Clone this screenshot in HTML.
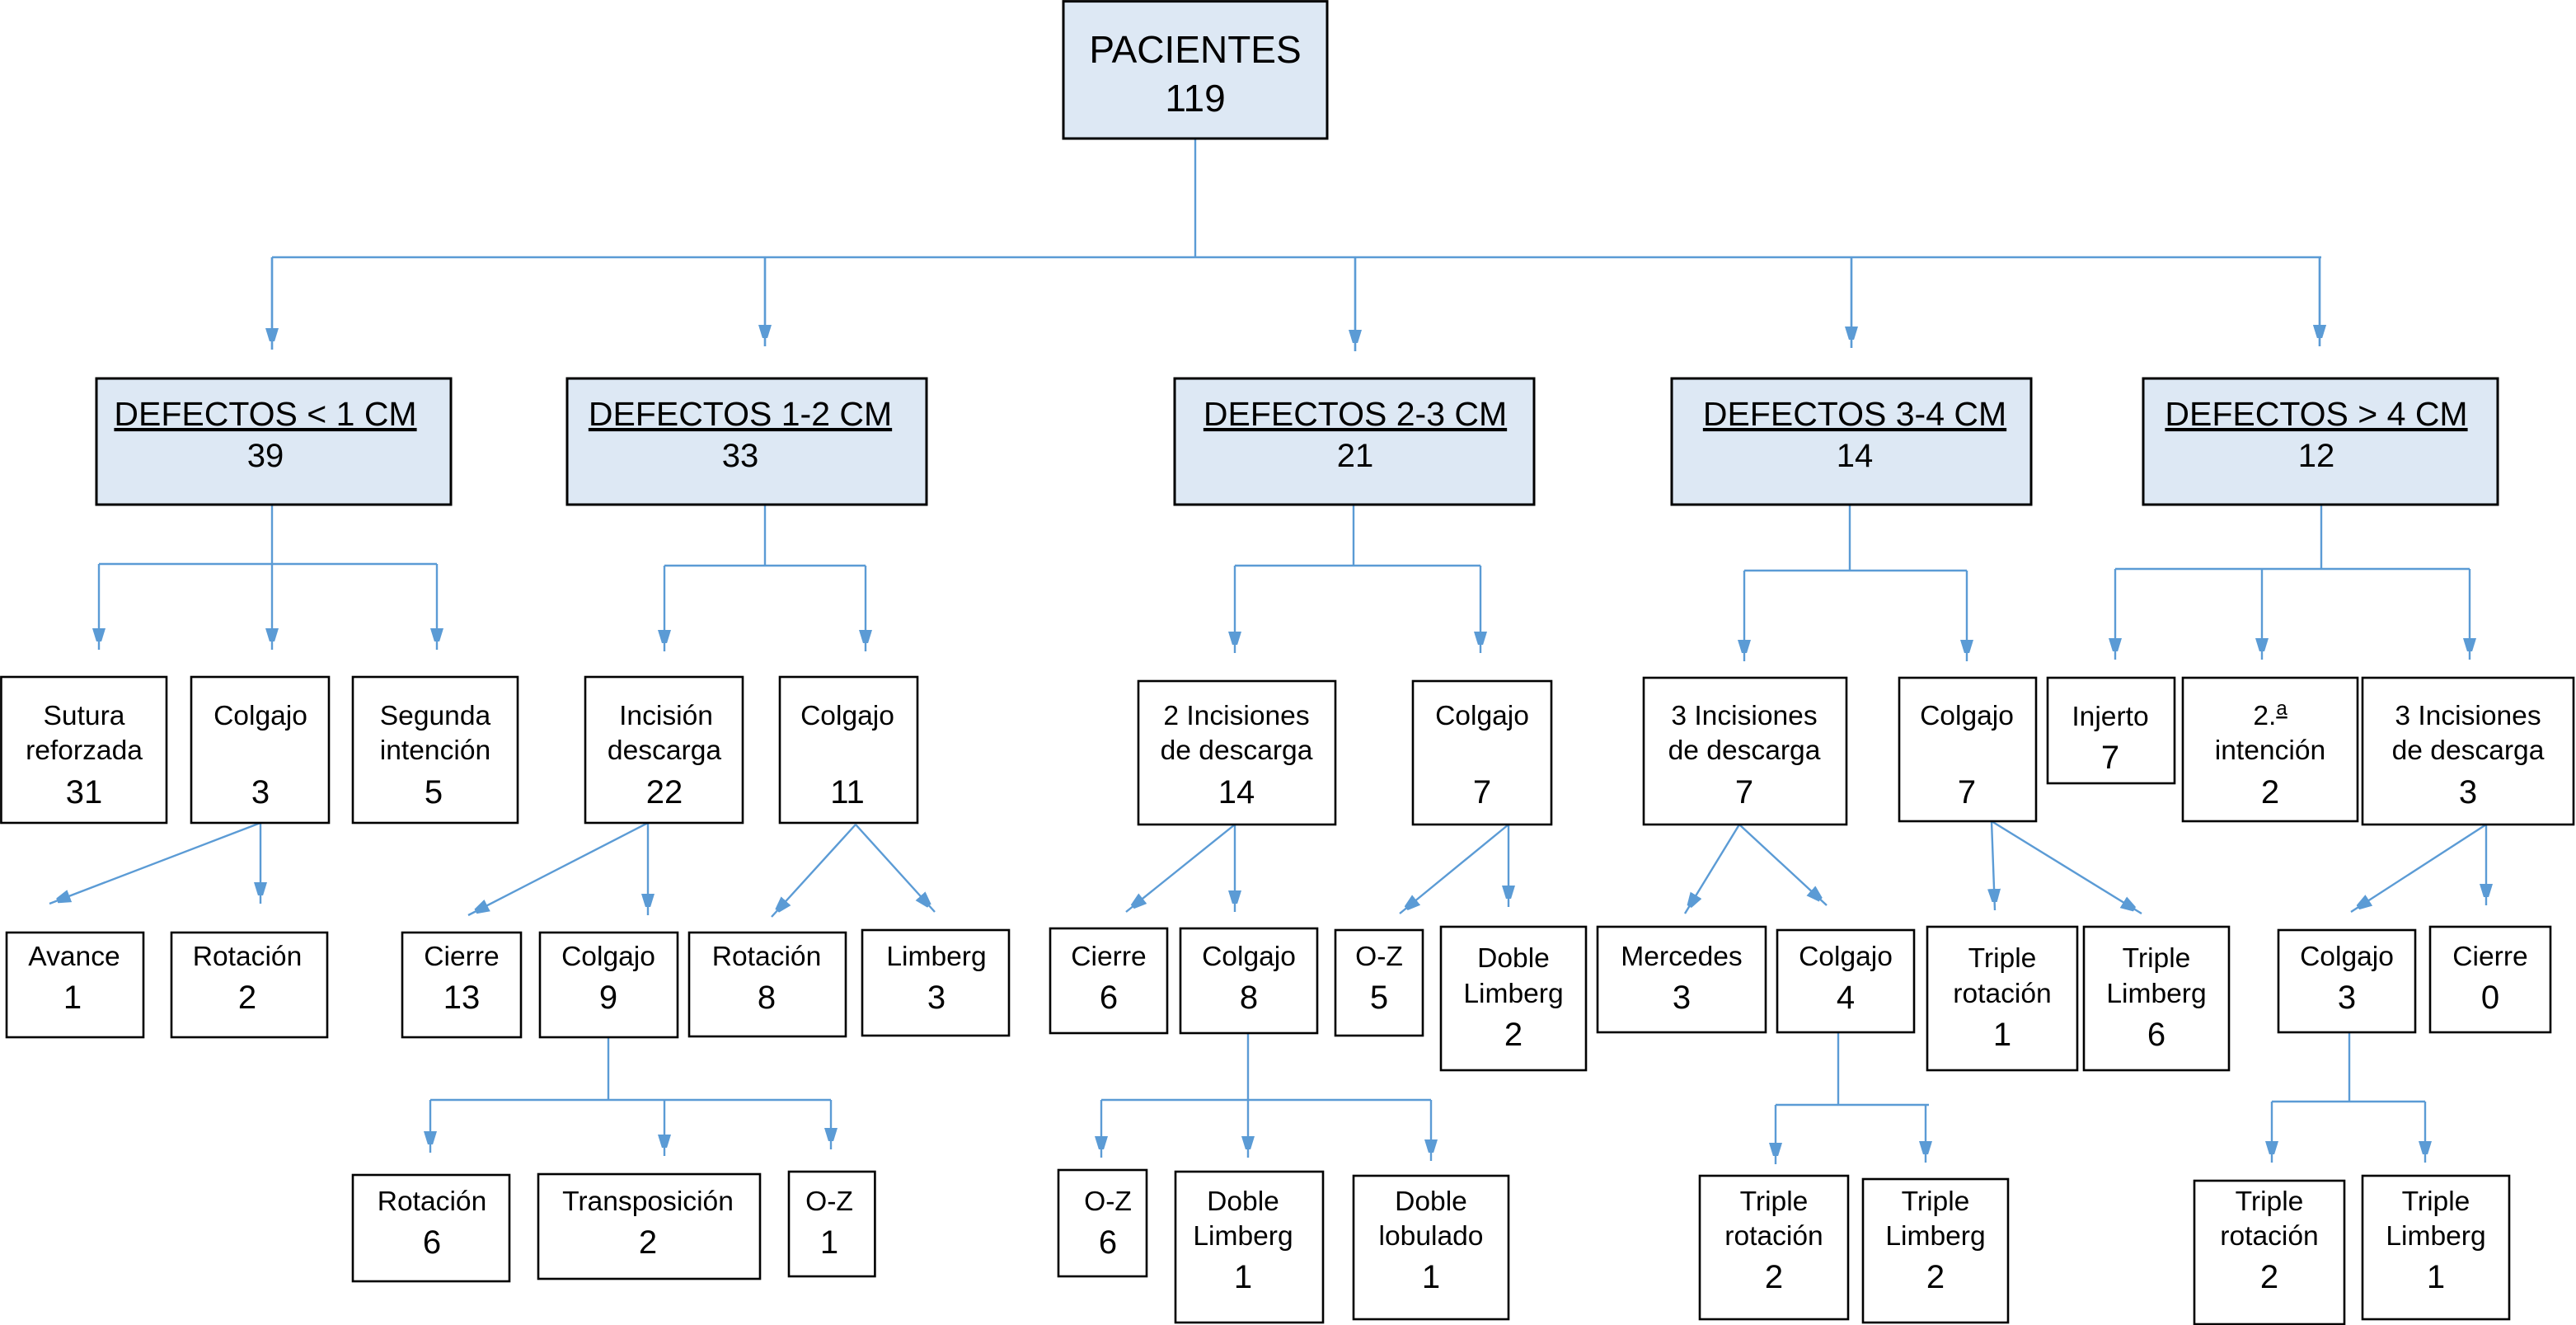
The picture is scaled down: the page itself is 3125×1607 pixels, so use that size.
<!DOCTYPE html>
<html><head><meta charset="utf-8"><style>
html,body{margin:0;padding:0;background:#fff;}
svg{display:block;}
text{font-family:"Liberation Sans",Arial,sans-serif;fill:#000;text-anchor:middle;}
.t{font-size:16.8px;}
.n{font-size:20px;}
.h{font-size:20.5px;text-decoration:underline;}
.b{fill:#fff;stroke:#000;stroke-width:1.3;}
.f{fill:#dde8f4;stroke:#000;stroke-width:1.5;}
.l{fill:none;stroke:#5b9bd5;stroke-width:1.2;}
</style></head><body>
<svg width="3125" height="1607" viewBox="0 0 1562.5 803.5" xmlns="http://www.w3.org/2000/svg">
<defs>
<marker id="a" markerUnits="userSpaceOnUse" markerWidth="8" markerHeight="14" viewBox="0 0 8 14" refX="13" refY="4" orient="auto">
<path d="M0 0 L13 4 L0 8 Z" fill="#5b9bd5"/>
</marker>
</defs>
<!-- connectors -->
<g class="l">
<path d="M725 84 V156 M165 156 H1408"/>
<path d="M165 156 V212 M464 156 V210 M822 156 V213 M1123 156 V211 M1407 156 V210" marker-end="url(#a)"/>
<line x1="165" y1="156" x2="165" y2="212" marker-end="url(#a)"/>
<line x1="464" y1="156" x2="464" y2="210" marker-end="url(#a)"/>
<line x1="822" y1="156" x2="822" y2="213" marker-end="url(#a)"/>
<line x1="1123" y1="156" x2="1123" y2="211" marker-end="url(#a)"/>
<line x1="1407" y1="156" x2="1407" y2="210" marker-end="url(#a)"/>

<path d="M165 306 V342 M60 342 H265"/>
<line x1="60" y1="342" x2="60" y2="394" marker-end="url(#a)"/>
<line x1="165" y1="342" x2="165" y2="394" marker-end="url(#a)"/>
<line x1="265" y1="342" x2="265" y2="394" marker-end="url(#a)"/>

<path d="M464 306 V343 M403 343 H525"/>
<line x1="403" y1="343" x2="403" y2="395" marker-end="url(#a)"/>
<line x1="525" y1="343" x2="525" y2="395" marker-end="url(#a)"/>

<path d="M821 306 V343 M749 343 H898"/>
<line x1="749" y1="343" x2="749" y2="396" marker-end="url(#a)"/>
<line x1="898" y1="343" x2="898" y2="396" marker-end="url(#a)"/>

<path d="M1122 306 V346 M1058 346 H1193"/>
<line x1="1058" y1="346" x2="1058" y2="401" marker-end="url(#a)"/>
<line x1="1193" y1="346" x2="1193" y2="401" marker-end="url(#a)"/>

<path d="M1408 306 V345 M1283 345 H1498"/>
<line x1="1283" y1="345" x2="1283" y2="400" marker-end="url(#a)"/>
<line x1="1372" y1="345" x2="1372" y2="400" marker-end="url(#a)"/>
<line x1="1498" y1="345" x2="1498" y2="400" marker-end="url(#a)"/>

<line x1="158" y1="499" x2="30" y2="548" marker-end="url(#a)"/>
<line x1="158" y1="499" x2="158" y2="548" marker-end="url(#a)"/>
<line x1="393" y1="499" x2="284" y2="555" marker-end="url(#a)"/>
<line x1="393" y1="499" x2="393" y2="555" marker-end="url(#a)"/>
<line x1="519" y1="500" x2="468" y2="556" marker-end="url(#a)"/>
<line x1="519" y1="500" x2="567" y2="553" marker-end="url(#a)"/>
<line x1="749" y1="500" x2="683" y2="553" marker-end="url(#a)"/>
<line x1="749" y1="500" x2="749" y2="553" marker-end="url(#a)"/>
<line x1="915" y1="500" x2="849" y2="554" marker-end="url(#a)"/>
<line x1="915" y1="500" x2="915" y2="550" marker-end="url(#a)"/>
<line x1="1055" y1="500" x2="1022" y2="554" marker-end="url(#a)"/>
<line x1="1055" y1="500" x2="1108" y2="549" marker-end="url(#a)"/>
<line x1="1208" y1="498" x2="1210" y2="552" marker-end="url(#a)"/>
<line x1="1208" y1="498" x2="1299" y2="554" marker-end="url(#a)"/>
<line x1="1508" y1="500" x2="1426" y2="553" marker-end="url(#a)"/>
<line x1="1508" y1="500" x2="1508" y2="549" marker-end="url(#a)"/>

<path d="M369 629 V667 M261 667 H504"/>
<line x1="261" y1="667" x2="261" y2="699" marker-end="url(#a)"/>
<line x1="403" y1="667" x2="403" y2="701" marker-end="url(#a)"/>
<line x1="504" y1="667" x2="504" y2="697" marker-end="url(#a)"/>

<path d="M757 627 V667 M668 667 H868"/>
<line x1="668" y1="667" x2="668" y2="702" marker-end="url(#a)"/>
<line x1="757" y1="667" x2="757" y2="702" marker-end="url(#a)"/>
<line x1="868" y1="667" x2="868" y2="704" marker-end="url(#a)"/>

<path d="M1115 626 V670 M1077 670 H1170"/>
<line x1="1077" y1="670" x2="1077" y2="706" marker-end="url(#a)"/>
<line x1="1168" y1="670" x2="1168" y2="705" marker-end="url(#a)"/>

<path d="M1425 626 V668 M1378 668 H1471"/>
<line x1="1378" y1="668" x2="1378" y2="705" marker-end="url(#a)"/>
<line x1="1471" y1="668" x2="1471" y2="705" marker-end="url(#a)"/>
</g>

<!-- root -->
<rect class="f" x="645" y="0.8" width="160" height="83.2"/>
<text x="725" y="38" style="font-size:23px">PACIENTES</text>
<text x="725" y="67.5" style="font-size:23px">119</text>

<!-- level 1 -->
<rect class="f" x="58.5" y="229.5" width="215" height="76.5"/>
<text class="h" x="161" y="258">DEFECTOS &lt; 1 CM</text><text class="n" x="161" y="283">39</text>
<rect class="f" x="344" y="229.5" width="218" height="76.5"/>
<text class="h" x="449" y="258">DEFECTOS 1-2 CM</text><text class="n" x="449" y="283">33</text>
<rect class="f" x="712.5" y="229.5" width="218" height="76.5"/>
<text class="h" x="822" y="258">DEFECTOS 2-3 CM</text><text class="n" x="822" y="283">21</text>
<rect class="f" x="1014" y="229.5" width="218" height="76.5"/>
<text class="h" x="1125" y="258">DEFECTOS 3-4 CM</text><text class="n" x="1125" y="283">14</text>
<rect class="f" x="1300" y="229.5" width="215" height="76.5"/>
<text class="h" x="1405" y="258">DEFECTOS &gt; 4 CM</text><text class="n" x="1405" y="283">12</text>

<!-- level 2 -->
<rect class="b" x="0.7" y="410.5" width="100.3" height="88.5"/>
<text class="t" x="51" y="439.5">Sutura</text><text class="t" x="51" y="460.5">reforzada</text><text class="n" x="51" y="487">31</text>
<rect class="b" x="116" y="410.5" width="83.5" height="88.5"/>
<text class="t" x="158" y="439.5">Colgajo</text><text class="n" x="158" y="487">3</text>
<rect class="b" x="214" y="410.5" width="100" height="88.5"/>
<text class="t" x="264" y="439.5">Segunda</text><text class="t" x="264" y="460.5">intención</text><text class="n" x="263" y="487">5</text>
<rect class="b" x="355" y="410.5" width="95.5" height="88.5"/>
<text class="t" x="404" y="439.5">Incisión</text><text class="t" x="403" y="460.5">descarga</text><text class="n" x="403" y="487">22</text>
<rect class="b" x="473" y="410.5" width="83.5" height="88.5"/>
<text class="t" x="514" y="439.5">Colgajo</text><text class="n" x="514" y="487">11</text>
<rect class="b" x="690.5" y="413" width="119.5" height="87"/>
<text class="t" x="750" y="439.5">2 Incisiones</text><text class="t" x="750" y="460.5">de descarga</text><text class="n" x="750" y="487">14</text>
<rect class="b" x="857" y="413" width="84" height="87"/>
<text class="t" x="899" y="439.5">Colgajo</text><text class="n" x="899" y="487">7</text>
<rect class="b" x="997" y="411" width="123" height="89"/>
<text class="t" x="1058" y="439.5">3 Incisiones</text><text class="t" x="1058" y="460.5">de descarga</text><text class="n" x="1058" y="487">7</text>
<rect class="b" x="1152" y="411" width="83" height="87"/>
<text class="t" x="1193" y="439.5">Colgajo</text><text class="n" x="1193" y="487">7</text>
<rect class="b" x="1242" y="411" width="77" height="64"/>
<text class="t" x="1280" y="440">Injerto</text><text class="n" x="1280" y="466">7</text>
<rect class="b" x="1324" y="411" width="106" height="87"/>
<text class="t" x="1377" y="439.5">2.<tspan style="font-size:12px;text-decoration:underline" dy="-6">a</tspan></text><text class="t" x="1377" y="460.5">intención</text><text class="n" x="1377" y="487">2</text>
<rect class="b" x="1433" y="411" width="128" height="89"/>
<text class="t" x="1497" y="439.5">3 Incisiones</text><text class="t" x="1497" y="460.5">de descarga</text><text class="n" x="1497" y="487">3</text>

<!-- level 3 -->
<rect class="b" x="4" y="565.5" width="83" height="63.5"/>
<text class="t" x="45" y="585.5">Avance</text><text class="n" x="44" y="611.5">1</text>
<rect class="b" x="104" y="565.5" width="94.5" height="63.5"/>
<text class="t" x="150" y="585.5">Rotación</text><text class="n" x="150" y="611.5">2</text>
<rect class="b" x="244" y="565.5" width="72" height="63.5"/>
<text class="t" x="280" y="585.5">Cierre</text><text class="n" x="280" y="611.5">13</text>
<rect class="b" x="327.5" y="565.5" width="83.5" height="63.5"/>
<text class="t" x="369" y="585.5">Colgajo</text><text class="n" x="369" y="611.5">9</text>
<rect class="b" x="418" y="565.5" width="95" height="63"/>
<text class="t" x="465" y="585.5">Rotación</text><text class="n" x="465" y="611.5">8</text>
<rect class="b" x="523" y="564" width="89" height="64"/>
<text class="t" x="568" y="585.5">Limberg</text><text class="n" x="568" y="611.5">3</text>
<rect class="b" x="637" y="563" width="71" height="63.5"/>
<text class="t" x="672.5" y="585.5">Cierre</text><text class="n" x="672.5" y="611.5">6</text>
<rect class="b" x="716" y="563" width="83" height="63.5"/>
<text class="t" x="757.5" y="585.5">Colgajo</text><text class="n" x="757.5" y="611.5">8</text>
<rect class="b" x="810" y="564" width="53" height="64"/>
<text class="t" x="836.5" y="585.5">O-Z</text><text class="n" x="836.5" y="611.5">5</text>
<rect class="b" x="874" y="562" width="88" height="87"/>
<text class="t" x="918" y="586.5">Doble</text><text class="t" x="918" y="608">Limberg</text><text class="n" x="918" y="634">2</text>
<rect class="b" x="969" y="562" width="102" height="64"/>
<text class="t" x="1020" y="585.5">Mercedes</text><text class="n" x="1020" y="611.5">3</text>
<rect class="b" x="1078" y="564" width="83" height="62"/>
<text class="t" x="1119.5" y="585.5">Colgajo</text><text class="n" x="1119.5" y="611.5">4</text>
<rect class="b" x="1169" y="562" width="91" height="87"/>
<text class="t" x="1214.5" y="586.5">Triple</text><text class="t" x="1214.5" y="608">rotación</text><text class="n" x="1214.5" y="634">1</text>
<rect class="b" x="1264" y="562" width="88" height="87"/>
<text class="t" x="1308" y="586.5">Triple</text><text class="t" x="1308" y="608">Limberg</text><text class="n" x="1308" y="634">6</text>
<rect class="b" x="1382" y="564" width="83" height="62"/>
<text class="t" x="1423.5" y="585.5">Colgajo</text><text class="n" x="1423.5" y="611.5">3</text>
<rect class="b" x="1474" y="562" width="73" height="64"/>
<text class="t" x="1510.5" y="585.5">Cierre</text><text class="n" x="1510.5" y="611.5">0</text>

<!-- level 4 -->
<rect class="b" x="214" y="712.5" width="95" height="64.5"/>
<text class="t" x="262" y="734">Rotación</text><text class="n" x="262" y="760">6</text>
<rect class="b" x="326.5" y="712" width="134.5" height="63.5"/>
<text class="t" x="393" y="734">Transposición</text><text class="n" x="393" y="760">2</text>
<rect class="b" x="478.5" y="710.5" width="52.2" height="63.5"/>
<text class="t" x="503" y="734">O-Z</text><text class="n" x="503" y="760">1</text>
<rect class="b" x="642" y="709.5" width="53.5" height="64.5"/>
<text class="t" x="672" y="734">O-Z</text><text class="n" x="672" y="760">6</text>
<rect class="b" x="713" y="710.5" width="89.5" height="91.5"/>
<text class="t" x="754" y="734">Doble</text><text class="t" x="754" y="755">Limberg</text><text class="n" x="754" y="781">1</text>
<rect class="b" x="821" y="713" width="94" height="87"/>
<text class="t" x="868" y="734">Doble</text><text class="t" x="868" y="755">lobulado</text><text class="n" x="868" y="781">1</text>
<rect class="b" x="1031" y="713" width="90" height="87"/>
<text class="t" x="1076" y="734">Triple</text><text class="t" x="1076" y="755">rotación</text><text class="n" x="1076" y="781">2</text>
<rect class="b" x="1130" y="715" width="88" height="87"/>
<text class="t" x="1174" y="734">Triple</text><text class="t" x="1174" y="755">Limberg</text><text class="n" x="1174" y="781">2</text>
<rect class="b" x="1331" y="716" width="91" height="87"/>
<text class="t" x="1376.5" y="734">Triple</text><text class="t" x="1376.5" y="755">rotación</text><text class="n" x="1376.5" y="781">2</text>
<rect class="b" x="1433" y="713" width="89" height="87"/>
<text class="t" x="1477.5" y="734">Triple</text><text class="t" x="1477.5" y="755">Limberg</text><text class="n" x="1477.5" y="781">1</text>
</svg>
</body></html>
